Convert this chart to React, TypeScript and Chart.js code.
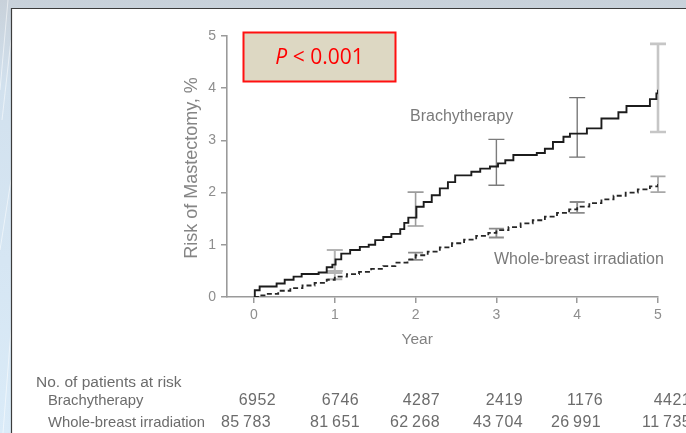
import React, { useEffect, useRef } from 'react';
import { Chart, registerables } from 'chart.js';
Chart.register(...registerables);

// ---- data ----
const yearTicks = [0, 1, 2, 3, 4, 5];
const riskTicks = [0, 1, 2, 3, 4, 5];

const brachyTimes = [0, 0.01, 0.07, 0.28, 0.38, 0.49, 0.59, 0.8, 0.9, 0.97, 1.01, 1.08, 1.19, 1.31, 1.42, 1.5, 1.6, 1.7, 1.81, 1.86, 1.91, 2.01, 2.1, 2.2, 2.3, 2.4, 2.49, 2.69, 2.8, 2.92, 3.02, 3.11, 3.21, 3.5, 3.6, 3.7, 3.83, 3.91, 4.12, 4.3, 4.51, 4.61, 4.9, 4.98, 5.0];
const brachyRisk = [0, 0.13, 0.2, 0.26, 0.33, 0.39, 0.44, 0.47, 0.57, 0.62, 0.72, 0.83, 0.9, 0.96, 1.0, 1.09, 1.15, 1.21, 1.3, 1.42, 1.52, 1.73, 1.82, 1.95, 2.08, 2.2, 2.33, 2.4, 2.46, 2.5, 2.56, 2.62, 2.72, 2.76, 2.84, 2.97, 3.07, 3.13, 3.23, 3.42, 3.54, 3.66, 3.79, 3.9, 3.97];

const wbiTimes = [0, 0.05, 0.15, 0.3, 0.45, 0.6, 0.75, 0.9, 1.0, 1.15, 1.3, 1.45, 1.6, 1.75, 1.9, 2.0, 2.15, 2.3, 2.45, 2.6, 2.75, 2.9, 3.0, 3.15, 3.3, 3.45, 3.6, 3.75, 3.9, 4.0, 4.15, 4.3, 4.45, 4.6, 4.75, 4.9, 5.0];
const wbiRisk = [0, 0.03, 0.06, 0.12, 0.17, 0.22, 0.27, 0.33, 0.39, 0.44, 0.48, 0.54, 0.59, 0.66, 0.72, 0.8, 0.87, 0.95, 1.03, 1.1, 1.17, 1.23, 1.28, 1.34, 1.41, 1.47, 1.54, 1.61, 1.68, 1.73, 1.8, 1.87, 1.94, 2.0, 2.06, 2.12, 2.17];

const ciYears = [1, 2, 3, 4, 5];
const brachyLow = [0.5, 1.36, 2.14, 2.68, 3.16];
const brachyHigh = [0.9, 2.01, 3.02, 3.82, 4.85];
const wbiLow = [0.34, 0.71, 1.14, 1.61, 2.01];
const wbiHigh = [0.46, 0.85, 1.31, 1.82, 2.31];

const atRiskBrachy = [6952, 6746, 4287, 2419, 1176, 4421];
const atRiskWbi = [85783, 81651, 62268, 43704, 26991, 11735];

const groupNames = ['Brachytherapy', 'Whole-breast irradiation'];
const pText = '< 0.001';

const FONT = '"Liberation Sans", Arial, Helvetica, sans-serif';

function fmt(n: number): string {
  return n >= 10000 ? String(n).replace(/(\d{3})$/, '\u2009$1') : String(n);
}

export default function App() {
  const ref = useRef<HTMLCanvasElement>(null);

  useEffect(() => {
    const canvas = ref.current!;

    const background = {
      id: 'bg',
      beforeDraw(chart: any) {
        const ctx = chart.ctx as CanvasRenderingContext2D;
        const W = chart.width, H = chart.height;
        ctx.save();
        const g = ctx.createLinearGradient(0, 0, 0, H);
        g.addColorStop(0, '#c8d1da');
        g.addColorStop(0.2, '#d2e1ee');
        g.addColorStop(1, '#daebf8');
        ctx.fillStyle = g;
        ctx.fillRect(0, 0, W, H);
        ctx.strokeStyle = 'rgba(255,255,255,0.55)';
        ctx.lineWidth = 1;
        const streaks = [[2, 120, 11, 40], [0, 250, 11, 180], [3, 433, 11, 330], [0, 90, 8, 0]];
        streaks.forEach(([a, b, c, d]) => {
          ctx.beginPath();
          ctx.moveTo(a, b);
          ctx.lineTo(c, d);
          ctx.stroke();
        });
        ctx.fillStyle = '#ffffff';
        ctx.fillRect(11.5, 8.5, W, H);
        ctx.strokeStyle = '#3c3c3c';
        ctx.lineWidth = 1.2;
        ctx.beginPath();
        ctx.moveTo(11.5, H);
        ctx.lineTo(11.5, 8.5);
        ctx.lineTo(W, 8.5);
        ctx.stroke();
        ctx.restore();
      },
    };

    const errorBars = {
      id: 'errorBars',
      beforeDatasetsDraw(chart: any) {
        const ctx = chart.ctx as CanvasRenderingContext2D;
        const xs = chart.scales.x, ys = chart.scales.y;
        const drawBar = (t: number, lo: number, hi: number, color: string, lw: number, half: number) => {
          const x = xs.getPixelForValue(t);
          const y1 = ys.getPixelForValue(lo), y2 = ys.getPixelForValue(hi);
          ctx.strokeStyle = color;
          ctx.lineWidth = lw;
          ctx.beginPath();
          ctx.moveTo(x, y1); ctx.lineTo(x, y2);
          ctx.moveTo(x - half, y1); ctx.lineTo(x + half, y1);
          ctx.moveTo(x - half, y2); ctx.lineTo(x + half, y2);
          ctx.stroke();
        };
        ctx.save();
        const bColors = ['#b4b4b4', '#9c9c9c', '#7c7c7c', '#707070', '#c6c6c6'];
        const bWidths = [2, 1.6, 1.4, 1.3, 2.6];
        const wColors = ['#b4b4b4', '#8a8a8a', '#8a8a8a', '#8a8a8a', '#a8a8a8'];
        ciYears.forEach((t, i) => {
          drawBar(t, wbiLow[i], wbiHigh[i], wColors[i], 1.8, 7.5);
          drawBar(t, brachyLow[i], brachyHigh[i], bColors[i], bWidths[i], 8);
        });
        ctx.restore();
      },
    };

    const texts = {
      id: 'texts',
      afterDraw(chart: any) {
        const ctx = chart.ctx as CanvasRenderingContext2D;
        const xs = chart.scales.x;
        ctx.save();
        // y title
        ctx.save();
        ctx.translate(196.5, 168);
        ctx.rotate(-Math.PI / 2);
        ctx.fillStyle = '#858585';
        ctx.font = `18px ${FONT}`;
        ctx.textAlign = 'center';
        ctx.textBaseline = 'alphabetic';
        ctx.fillText('Risk of Mastectomy, %', 0, 0);
        ctx.restore();

        // x title
        ctx.fillStyle = '#828282';
        ctx.font = `15.5px ${FONT}`;
        ctx.textAlign = 'center';
        ctx.textBaseline = 'middle';
        ctx.fillText('Year', xs.getPixelForValue(2.02), 340);

        // curve labels
        ctx.font = `16px ${FONT}`;
        ctx.textAlign = 'left';
        ctx.fillStyle = '#7a7a7a';
        ctx.fillText(groupNames[0], 410, 117);
        ctx.fillText(groupNames[1], 494, 260);

        // risk table
        ctx.fillStyle = '#6c6c6c';
        ctx.font = `15.5px ${FONT}`;
        ctx.fillText('No. of patients at risk', 36, 383);
        ctx.font = `14.8px ${FONT}`;
        ctx.fillText(groupNames[0], 48, 401);
        ctx.fillText(groupNames[1], 48, 423);
        ctx.textAlign = 'right';
        ctx.font = `16px ${FONT}`;
        (ctx as any).letterSpacing = '0.4px';
        const bRight = [276, 359, 440, 523, 603, 691];
        const wRight = [271, 360, 440, 523, 601, 691];
        atRiskBrachy.forEach((n, i) => ctx.fillText(fmt(n), bRight[i], 401));
        atRiskWbi.forEach((n, i) => ctx.fillText(fmt(n), wRight[i], 423));
        (ctx as any).letterSpacing = '0px';

        // P box
        ctx.fillStyle = '#ddd8c3';
        ctx.fillRect(243.5, 32.5, 152, 49);
        ctx.strokeStyle = '#ff1010';
        ctx.lineWidth = 2;
        ctx.strokeRect(243.5, 32.5, 152, 49);
        const pFont = `italic 21px "Open Sans", "Noto Sans", sans-serif`;
        const rFont = `21px "Open Sans", "Noto Sans", sans-serif`;
        ctx.font = pFont;
        const wP = ctx.measureText('P').width;
        ctx.font = rFont;
        const rest = ' ' + pText;
        const wR = ctx.measureText(rest).width;
        const start = 319.5 - (wP + wR) / 2;
        ctx.fillStyle = '#ff0000';
        ctx.textAlign = 'left';
        ctx.textBaseline = 'middle';
        ctx.font = pFont;
        ctx.fillText('P', start, 58.5);
        ctx.font = rFont;
        ctx.fillText(rest, start + wP, 58.5);
        ctx.restore();
      },
    };

    const chart = new Chart(canvas, {
      type: 'line',
      data: {
        datasets: [
          {
            label: groupNames[0],
            data: brachyTimes.map((t, i) => ({ x: t, y: brachyRisk[i] })),
            borderColor: '#1c1c1c',
            borderWidth: 1.9,
            stepped: true,
            pointRadius: 0,
            fill: false,
          },
          {
            label: groupNames[1],
            data: wbiTimes.map((t, i) => ({ x: t, y: wbiRisk[i] })),
            borderColor: '#262626',
            borderWidth: 1.8,
            borderDash: [5, 3],
            stepped: true,
            pointRadius: 0,
            fill: false,
          },
        ],
      },
      options: {
        animation: false,
        responsive: false,
        devicePixelRatio: 1,
        layout: { padding: { left: 177, right: 28, top: 36, bottom: 96 } },
        plugins: { legend: { display: false }, tooltip: { enabled: false }, title: { display: false } },
        scales: {
          x: {
            type: 'linear',
            min: -0.334,
            max: 5,
            afterBuildTicks: (s: any) => { s.ticks = yearTicks.map((v) => ({ value: v })); },
            afterFit: (s: any) => { s.height = 40; },
            ticks: {
              color: '#8e8e8e',
              font: { family: FONT, size: 14 },
              padding: 4,
              autoSkip: false,
              maxRotation: 0,
              callback: (v: any) => String(v),
            },
            grid: { drawOnChartArea: false, drawTicks: true, tickLength: 6, color: '#9a9a9a', lineWidth: 1.5 },
            border: { color: '#9a9a9a', width: 1.6 },
          },
          y: {
            type: 'linear',
            min: 0,
            max: 5,
            afterBuildTicks: (s: any) => { s.ticks = riskTicks.map((v) => ({ value: v })); },
            afterFit: (s: any) => { s.width = 50; },
            ticks: {
              color: '#8e8e8e',
              font: { family: FONT, size: 14 },
              padding: 5,
              callback: (v: any) => String(v),
            },
            grid: { drawOnChartArea: false, drawTicks: true, tickLength: 6, color: '#9a9a9a', lineWidth: 1.5 },
            border: { color: '#9a9a9a', width: 1.6 },
          },
        },
      },
      plugins: [background, errorBars, texts],
    });
    return () => chart.destroy();
  }, []);

  return (
    <div style={{ position: 'fixed', left: 0, top: 0, width: 686, height: 433 }}>
      <canvas ref={ref} width={686} height={433} style={{ display: 'block', width: 686, height: 433 }} />
    </div>
  );
}
